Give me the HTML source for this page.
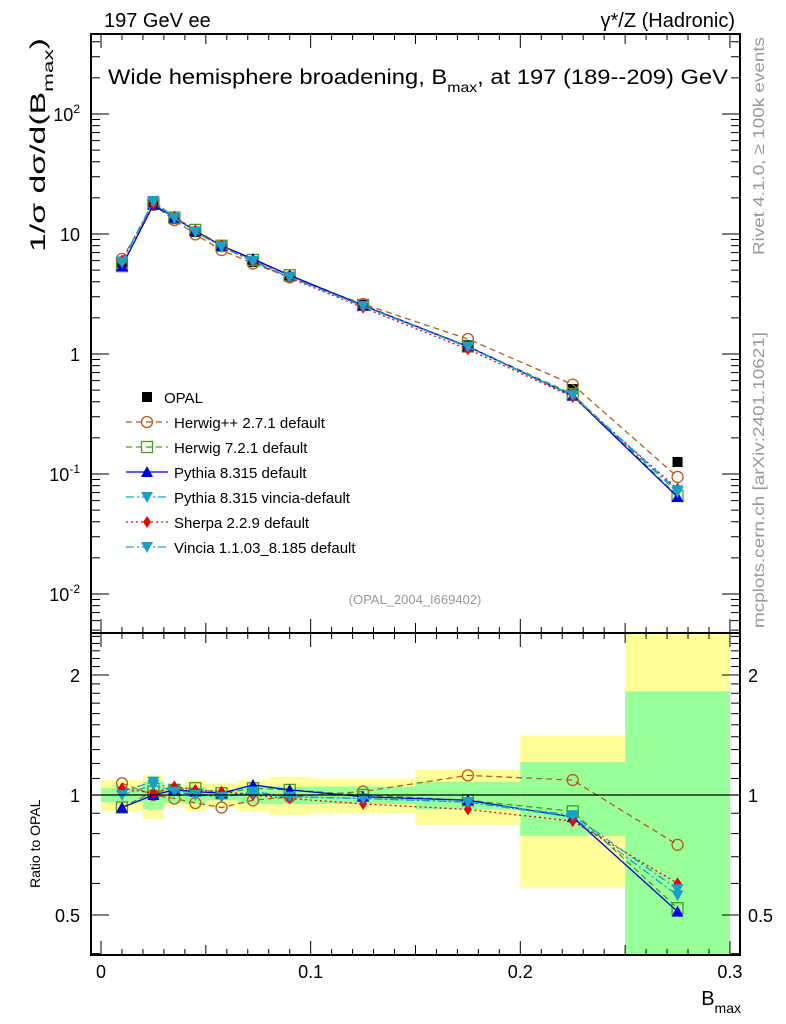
<!DOCTYPE html>
<html><head><meta charset="utf-8"><style>
body{margin:0;background:#fff;}
svg{display:block;font-family:"Liberation Sans",sans-serif;}
</style></head><body>
<svg id="c" width="786" height="1024" xmlns="http://www.w3.org/2000/svg">
<g id="bands"></g>
<g id="grid"></g>
<g id="series"></g>
<g id="axes"></g>
<rect x="91" y="34" width="649" height="599" fill="none" stroke="#000" stroke-width="2"/>
<rect x="91" y="633" width="649" height="322" fill="none" stroke="#000" stroke-width="2"/>
<text x="104" y="27" font-size="20">197 GeV ee</text>
<text x="735" y="27" font-size="20" text-anchor="end">γ*/Z (Hadronic)</text>
<text x="108" y="84" font-size="21" textLength="620" lengthAdjust="spacingAndGlyphs">Wide hemisphere broadening, B<tspan font-size="14" dy="8">max</tspan><tspan dy="-8">, at 197 (189--209) GeV</tspan></text>
<text x="415" y="604" font-size="13" fill="#999" text-anchor="middle">(OPAL_2004_I669402)</text>
<text transform="translate(764,255) rotate(-90)" font-size="16" fill="#999" textLength="218" lengthAdjust="spacingAndGlyphs">Rivet 4.1.0, ≥ 100k events</text>
<text transform="translate(764,628) rotate(-90)" font-size="16" fill="#999" textLength="296" lengthAdjust="spacingAndGlyphs">mcplots.cern.ch [arXiv:2401.10621]</text>
<text transform="translate(45,252) rotate(-90)" font-size="21" textLength="214" lengthAdjust="spacingAndGlyphs">1/σ   dσ/d(B<tspan font-size="14" dy="8">max</tspan><tspan dy="-8">)</tspan></text>
<text transform="translate(40,888) rotate(-90)" font-size="14">Ratio to OPAL</text>
<text x="741" y="1005" font-size="20" text-anchor="end">B<tspan font-size="14" dy="8">max</tspan></text>
<g id="legend"></g>
</svg>
<script>
const NS="http://www.w3.org/2000/svg";
const edges=[0,0.02,0.03,0.04,0.05,0.065,0.08,0.1,0.15,0.2,0.25,0.3];
const centers=[0.01,0.025,0.035,0.045,0.0575,0.0725,0.09,0.125,0.175,0.225,0.275];
const opal=[5.8,17.5,13.3,10.4,7.9,5.85,4.4,2.56,1.19,0.51,0.126];
const yellowUp=[1.09,1.12,1.06,1.09,1.07,1.09,1.11,1.10,1.16,1.41,3.0];
const yellowDn=[0.91,0.87,0.94,0.91,0.93,0.91,0.89,0.90,0.84,0.585,0.3];
const greenUp=[1.04,1.08,1.045,1.05,1.03,1.05,1.05,1.05,1.08,1.21,1.82];
const greenDn=[0.96,0.92,0.955,0.95,0.97,0.95,0.95,0.95,0.92,0.79,0.3];
const rHerwigpp=[1.07,1.0,0.98,0.955,0.93,0.97,0.99,1.02,1.12,1.09,0.75];
const rHerwig7=[0.93,1.02,1.03,1.04,1.01,1.04,1.03,1.0,0.97,0.91,0.52];
const rPythia=[0.93,1.0,1.03,1.02,1.01,1.06,1.03,0.99,0.97,0.88,0.51];
const rPythiaV=[1.02,1.08,1.03,1.01,0.99,1.02,0.99,0.98,0.96,0.88,0.56];
const rSherpa=[1.04,1.01,1.05,1.03,1.02,1.0,0.98,0.95,0.92,0.86,0.60];
const rVincia=[1.0,1.06,1.02,1.0,0.99,1.01,0.99,0.98,0.96,0.89,0.58];
const xTicks=[0,0.1,0.2,0.3];
const yTicks=[-2,-1,0,1,2];
const rTicks=[0.5,1,2];

const X=v=>101+v*2096.5;
const Y=v=>354-120*Math.log10(v);
const R=v=>795-398.6*Math.log10(v);
const Rc=v=>Math.max(634,Math.min(954,R(v)));
function el(t,a,p){const e=document.createElementNS(NS,t);for(const k in a)e.setAttribute(k,a[k]);(p||document.getElementById('c')).appendChild(e);return e;}
const bands=document.getElementById('bands');
for(let i=0;i<centers.length;i++){
  const x0=X(edges[i]),x1=X(edges[i+1]);
  const b=el('rect',{x:x0,y:Rc(yellowUp[i]),width:x1-x0,height:Rc(yellowDn[i])-Rc(yellowUp[i]),fill:'#ffff99'},bands);
  
  
  const g=el('rect',{x:x0,y:Rc(greenUp[i]),width:x1-x0,height:Rc(greenDn[i])-Rc(greenUp[i]),fill:'#99ff99'},bands);
  
  
}
const ax=document.getElementById('axes');
const one=el('line',{x1:91,x2:740,y1:R(1),y2:R(1),stroke:'#000','stroke-width':1.3},ax);


for(let k=0;k<=30;k++){const v=k/100,x=X(v);const L=k%10==0?14:(k%5==0?10:6);
  el('line',{x1:x,x2:x,y1:633,y2:633-L,stroke:'#000'},ax);
  el('line',{x1:x,x2:x,y1:34,y2:34+L,stroke:'#000'},ax);
  el('line',{x1:x,x2:x,y1:955,y2:955-L,stroke:'#000'},ax);
  el('line',{x1:x,x2:x,y1:633,y2:633+L,stroke:'#000'},ax);}
xTicks.forEach(v=>{const t=el('text',{x:X(v),y:978,'font-size':18,'text-anchor':'middle'},ax);t.textContent=v===0?'0':String(v);
  
  });
for(let d=-3;d<=2;d++){for(let m=1;m<10;m++){const v=m*Math.pow(10,d),y=Y(v);if(y<35||y>632)continue;const L=m==1?18:9;
  el('line',{x1:91,x2:91+L,y1:y,y2:y,stroke:'#000'},ax);el('line',{x1:740,x2:740-L,y1:y,y2:y,stroke:'#000'},ax);}}
yTicks.forEach(e=>{const t=el('text',{x:80,y:Y(Math.pow(10,e))+7,'font-size':18,'text-anchor':'end'},ax);
  if(e==1)t.textContent='10';else if(e==0)t.textContent='1';else{t.textContent='10';const s=el('tspan',{'font-size':12,dy:-8},t);s.textContent=String(e);}
  
  });
for(let k=4;k<=25;k++){const v=k/10,y=R(v);if(y<634)continue;const L=(v==0.5||v==1||v==2)?18:9;
  el('line',{x1:91,x2:91+L,y1:y,y2:y,stroke:'#000'},ax);el('line',{x1:740,x2:740-L,y1:y,y2:y,stroke:'#000'},ax);}
rTicks.forEach(v=>{const t=el('text',{x:80,y:R(v)+7,'font-size':18,'text-anchor':'end'},ax);t.textContent=String(v);
  
  
  const t2=el('text',{x:748,y:R(v)+7,'font-size':18},ax);t2.textContent=String(v);
  
  });

function marker(g,type,x,y,col){
  if(type=='sq')el('rect',{x:x-5,y:y-5,width:10,height:10,fill:'#000'},g);
  else if(type=='circ')el('circle',{cx:x,cy:y,r:5.5,fill:'none',stroke:col,'stroke-width':1.3},g);
  else if(type=='osq')el('rect',{x:x-5.5,y:y-5.5,width:11,height:11,fill:'none',stroke:col,'stroke-width':1.3},g);
  else if(type=='up')el('path',{d:`M${x-6},${y+5}L${x+6},${y+5}L${x},${y-6}Z`,fill:col},g);
  else if(type=='dn')el('path',{d:`M${x-6},${y-5}L${x+6},${y-5}L${x},${y+6}Z`,fill:col},g);
  else if(type=='dia')el('path',{d:`M${x},${y-6}L${x+4},${y}L${x},${y+6}L${x-4},${y}Z`,fill:col},g);
}
const models=[
 {n:'herwigpp',r:rHerwigpp,c:'#b35c1e',m:'circ',d:'6,4',l:'Herwig++ 2.7.1 default'},
 {n:'herwig7',r:rHerwig7,c:'#4a9a1f',m:'osq',d:'6,4',l:'Herwig 7.2.1 default'},
 {n:'pythia',r:rPythia,c:'#0000e0',m:'up',d:'',l:'Pythia 8.315 default'},
 {n:'pythia-vincia',r:rPythiaV,c:'#1aa0c8',m:'dn',d:'8,3,2,3',l:'Pythia 8.315 vincia-default'},
 {n:'sherpa',r:rSherpa,c:'#ee0000',m:'dia',d:'2,3',l:'Sherpa 2.2.9 default'},
 {n:'vincia',r:rVincia,c:'#1aa0c8',m:'dn',d:'8,3,2,3',l:'Vincia 1.1.03_8.185 default'}];
const S=document.getElementById('series');
const og=el('g',{},S);


centers.forEach((c,i)=>marker(og,'sq',X(c),Y(opal[i]),'#000'));
models.forEach(md=>{
  const g=el('g',{},S);
  
  
  const pm=centers.map((c,i)=>X(c)+','+Y(md.r[i]*opal[i])).join(' ');
  el('polyline',{points:pm,fill:'none',stroke:md.c,'stroke-width':1.3,'stroke-dasharray':md.d},g);
  const pr=centers.map((c,i)=>X(c)+','+R(md.r[i])).join(' ');
  el('polyline',{points:pr,fill:'none',stroke:md.c,'stroke-width':1.3,'stroke-dasharray':md.d},g);
  centers.forEach((c,i)=>{marker(g,md.m,X(c),Y(md.r[i]*opal[i]),md.c);marker(g,md.m,X(c),R(md.r[i]),md.c);});
});
const lg=document.getElementById('legend');


const ly0=397,ldy=25;
marker(lg,'sq',147,ly0,'#000');
const t0=el('text',{x:164,y:ly0+6,'font-size':15},lg);t0.textContent='OPAL';


models.forEach((md,k)=>{const y=ly0+ldy*(k+1);
  el('line',{x1:126,x2:168,y1:y,y2:y,stroke:md.c,'stroke-width':1.3,'stroke-dasharray':md.d},lg);
  marker(lg,md.m,147,y,md.c);
  const t=el('text',{x:174,y:y+6,'font-size':15},lg);t.textContent=md.l;
  
  });
</script>
</body></html>
